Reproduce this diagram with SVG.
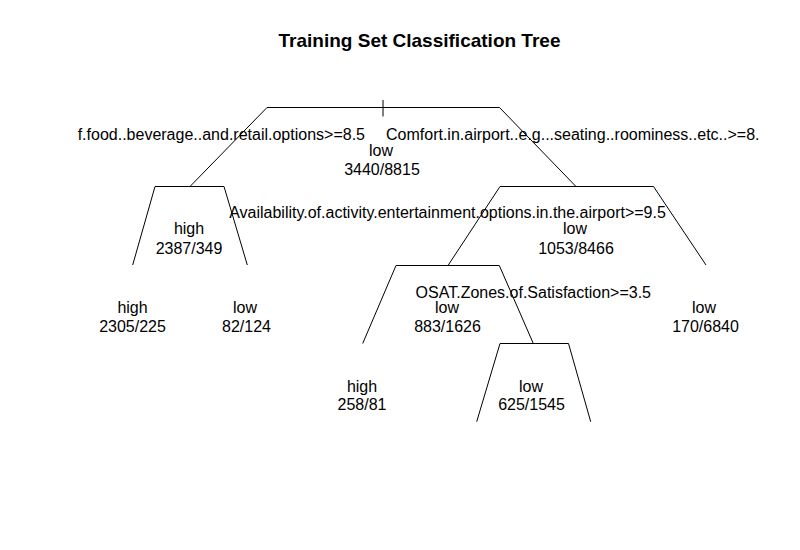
<svg xmlns="http://www.w3.org/2000/svg" width="800" height="550" viewBox="0 0 800 550">
<style>
.e{fill:none;stroke:#000;stroke-width:1}
text{font-family:"Liberation Sans",Arial,Helvetica,sans-serif;font-size:16px;fill:#000}
.c{text-anchor:middle}
.t{font-size:19px;font-weight:bold;text-anchor:middle}
</style>
<rect width="800" height="550" fill="#fff"/>
<text class="t" x="419.5" y="47">Training Set Classification Tree</text>
<g id="connectors">
<path class="e" d="M190,186.5 L267,107.5 H499.5 L576,186.5"/>
<path class="e" d="M383,100 V116.5"/>
<path class="e" d="M132.7,265 L155,186.5 H224 L247.3,265"/>
<path class="e" d="M448,265.5 L500,186.5 H653.5 L706,265"/>
<path class="e" d="M362.7,343.5 L396,265.5 H499.3 L533.3,343.5"/>
<path class="e" d="M476.7,421.7 L500,343.5 H568.5 L590.7,421.7"/>
</g>
<g id="node-root">
<text x="365" y="140" text-anchor="end">f.food..beverage..and.retail.options&gt;=8.5</text>
<text x="386" y="140">Comfort.in.airport..e.g...seating..roominess..etc..&gt;=8.</text>
<text class="c" x="381" y="156">low</text>
<text class="c" x="382" y="175">3440/8815</text>
</g>
<g id="node-2">
<text class="c" x="189" y="234">high</text>
<text class="c" x="189" y="254">2387/349</text>
</g>
<g id="node-3">
<text class="c" x="447.5" y="218">Availability.of.activity.entertainment.options.in.the.airport&gt;=9.5</text>
<text class="c" x="575" y="234">low</text>
<text class="c" x="576" y="254">1053/8466</text>
</g>
<g id="node-4">
<text class="c" x="132.5" y="313">high</text>
<text class="c" x="132.5" y="332">2305/225</text>
</g>
<g id="node-5">
<text class="c" x="245" y="313">low</text>
<text class="c" x="246.5" y="332">82/124</text>
</g>
<g id="node-6">
<text class="c" x="533.3" y="298">OSAT.Zones.of.Satisfaction&gt;=3.5</text>
<text class="c" x="447" y="313">low</text>
<text class="c" x="447.5" y="332">883/1626</text>
</g>
<g id="node-7">
<text class="c" x="704" y="313">low</text>
<text class="c" x="705.5" y="332">170/6840</text>
</g>
<g id="node-12">
<text class="c" x="362" y="392">high</text>
<text class="c" x="362" y="410">258/81</text>
</g>
<g id="node-13">
<text class="c" x="531" y="392">low</text>
<text class="c" x="531.5" y="410">625/1545</text>
</g>
</svg>
